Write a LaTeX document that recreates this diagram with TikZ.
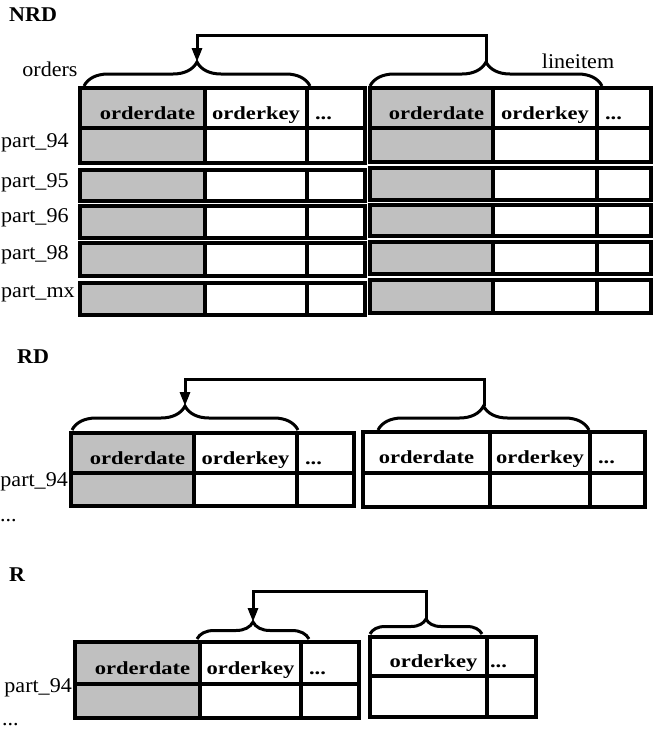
\documentclass[tikz,border=0pt]{standalone}
\usepackage{fontspec}
\setmainfont{Liberation Serif}[FakeStretch=1.05]
\newfontfamily\cellfont{Liberation Serif}[FakeStretch=1.22]
\usepackage{tikz}
\usetikzlibrary{positioning,arrows.meta,decorations.pathreplacing}
\definecolor{cellgray}{RGB}{192,192,192}
\tikzstyle{hcell} = [draw, line width=4pt, inner sep=0pt, outer sep=0pt, text height=22pt, text depth=0pt, text centered, font=\cellfont\fontsize{18.5}{22}\selectfont\bfseries]
\tikzstyle{gcell} = [hcell, fill=cellgray]
\tikzstyle{dcell} = [hcell, align=left, inner xsep=8pt]
\tikzstyle{rcell} = [draw, line width=4pt, inner sep=0pt, outer sep=0pt]
\tikzstyle{grcell} = [rcell, fill=cellgray]
\tikzstyle{textonly} = [draw=none, fill=none, inner sep=0pt, font=\fontsize{21}{24}\selectfont]
\tikzstyle{title} = [textonly, font=\fontsize{21}{24}\selectfont\bfseries]
\tikzstyle{brc} = [draw, line width=3pt, decorate, decoration={brace, amplitude=24pt}]
\tikzstyle{tedge} = [draw, line width=3pt, -{Triangle[length=14pt, width=10pt]}]

\begin{document}
\begin{tikzpicture}[x=1pt, y=-1pt]
\useasboundingbox (0,0) rectangle (654,732);

% NRD =============================
\node[title, anchor=west] (nrd) at (9,15) {NRD};
\node[textonly] (ordlab) at (50,69) {orders};
\node[textonly] (lilab) at (578,61) {lineitem};

% orders
\node[gcell, minimum width=125pt, minimum height=40pt, anchor=north west] (nrdOd) at (80,88) {\hspace*{10pt}orderdate};
\node[hcell, minimum width=102pt, minimum height=40pt, right=0pt of nrdOd] (nrdOk) {orderkey};
\node[dcell, text width=42pt, minimum height=40pt, right=0pt of nrdOk] (nrdOx) {...};
\node[grcell, minimum width=125pt, minimum height=35pt, below=0pt of nrdOd] (nrdO94d) {};
\node[rcell, minimum width=102pt, minimum height=35pt, below=0pt of nrdOk] (nrdO94k) {};
\node[rcell, minimum width=58pt, minimum height=35pt, below=0pt of nrdOx] (nrdO94x) {};

\node[grcell, minimum width=125pt, minimum height=31pt, anchor=north west] (nrdO95d) at (80,170) {};
\node[rcell, minimum width=102pt, minimum height=31pt, right=0pt of nrdO95d] (nrdO95k) {};
\node[rcell, minimum width=58pt, minimum height=31pt, right=0pt of nrdO95k] (nrdO95x) {};
\node[grcell, minimum width=125pt, minimum height=32pt, anchor=north west] (nrdO96d) at (80,206) {};
\node[rcell, minimum width=102pt, minimum height=32pt, right=0pt of nrdO96d] (nrdO96k) {};
\node[rcell, minimum width=58pt, minimum height=32pt, right=0pt of nrdO96k] (nrdO96x) {};
\node[grcell, minimum width=125pt, minimum height=33pt, anchor=north west] (nrdO98d) at (80,243) {};
\node[rcell, minimum width=102pt, minimum height=33pt, right=0pt of nrdO98d] (nrdO98k) {};
\node[rcell, minimum width=58pt, minimum height=33pt, right=0pt of nrdO98k] (nrdO98x) {};
\node[grcell, minimum width=125pt, minimum height=32pt, anchor=north west] (nrdOmxd) at (80,283) {};
\node[rcell, minimum width=102pt, minimum height=32pt, right=0pt of nrdOmxd] (nrdOmxk) {};
\node[rcell, minimum width=58pt, minimum height=32pt, right=0pt of nrdOmxk] (nrdOmxx) {};

% lineitem
\node[gcell, minimum width=123pt, minimum height=40pt, anchor=north west] (nrdLd) at (370,88) {\hspace*{10pt}orderdate};
\node[hcell, minimum width=104pt, minimum height=40pt, right=0pt of nrdLd] (nrdLk) {orderkey};
\node[dcell, text width=38pt, minimum height=40pt, right=0pt of nrdLk] (nrdLx) {...};
\node[grcell, minimum width=123pt, minimum height=34pt, below=0pt of nrdLd] (nrdL94d) {};
\node[rcell, minimum width=104pt, minimum height=34pt, below=0pt of nrdLk] (nrdL94k) {};
\node[rcell, minimum width=54pt, minimum height=34pt, below=0pt of nrdLx] (nrdL94x) {};

\node[grcell, minimum width=123pt, minimum height=32pt, anchor=north west] (nrdL95d) at (370,168) {};
\node[rcell, minimum width=104pt, minimum height=32pt, right=0pt of nrdL95d] (nrdL95k) {};
\node[rcell, minimum width=54pt, minimum height=32pt, right=0pt of nrdL95k] (nrdL95x) {};
\node[grcell, minimum width=123pt, minimum height=31pt, anchor=north west] (nrdL96d) at (370,205) {};
\node[rcell, minimum width=104pt, minimum height=31pt, right=0pt of nrdL96d] (nrdL96k) {};
\node[rcell, minimum width=54pt, minimum height=31pt, right=0pt of nrdL96k] (nrdL96x) {};
\node[grcell, minimum width=123pt, minimum height=32pt, anchor=north west] (nrdL98d) at (370,242) {};
\node[rcell, minimum width=104pt, minimum height=32pt, right=0pt of nrdL98d] (nrdL98k) {};
\node[rcell, minimum width=54pt, minimum height=32pt, right=0pt of nrdL98k] (nrdL98x) {};
\node[grcell, minimum width=123pt, minimum height=33pt, anchor=north west] (nrdLmxd) at (370,280) {};
\node[rcell, minimum width=104pt, minimum height=33pt, right=0pt of nrdLmxd] (nrdLmxk) {};
\node[rcell, minimum width=54pt, minimum height=33pt, right=0pt of nrdLmxk] (nrdLmxx) {};

% partitions
\node[textonly, anchor=west] (nrd94) at (1,143) {part\_94};
\node[textonly, anchor=west] (nrd95) at (1,183) {part\_95};
\node[textonly, anchor=west] (nrd96) at (1,218) {part\_96};
\node[textonly, anchor=west] (nrd98) at (1,255) {part\_98};
\node[textonly, anchor=west] (nrdmx) at (1,294) {part\_mx};

% braces and join
\coordinate (nrdOtip) at (197,62);
\coordinate (nrdLtip) at (486,62);
\coordinate (nrdTop) at (197,35);
\path[brc] (84,86) -- (310,86);
\path[brc] (370,86) -- (602,86);
\path[tedge] (nrdLtip) |- (nrdTop) -- (nrdOtip);

% RD =============================
\node[title, anchor=west] (rd) at (17,357) {RD};

\node[gcell, minimum width=123pt, minimum height=40pt, anchor=north west] (rdOd) at (71,433) {\hspace*{10pt}orderdate};
\node[hcell, minimum width=103pt, minimum height=40pt, right=0pt of rdOd] (rdOk) {orderkey};
\node[dcell, text width=41pt, minimum height=40pt, right=0pt of rdOk] (rdOx) {...};
\node[grcell, minimum width=123pt, minimum height=33pt, below=0pt of rdOd] (rdO94d) {};
\node[rcell, minimum width=103pt, minimum height=33pt, below=0pt of rdOk] (rdO94k) {};
\node[rcell, minimum width=57pt, minimum height=33pt, below=0pt of rdOx] (rdO94x) {};

\node[hcell, minimum width=127pt, minimum height=41pt, anchor=north west] (rdLd) at (363,432) {orderdate};
\node[hcell, minimum width=100pt, minimum height=41pt, right=0pt of rdLd] (rdLk) {orderkey};
\node[dcell, text width=39pt, minimum height=41pt, right=0pt of rdLk] (rdLx) {...};
\node[rcell, minimum width=127pt, minimum height=34pt, below=0pt of rdLd] (rdL94d) {};
\node[rcell, minimum width=100pt, minimum height=34pt, below=0pt of rdLk] (rdL94k) {};
\node[rcell, minimum width=55pt, minimum height=34pt, below=0pt of rdLx] (rdL94x) {};

\node[textonly, anchor=east] (rd94) at (68,482) {part\_94};
\node[textonly, anchor=west] (rddots) at (0,521) {...};

\coordinate (rdOtip) at (185,406);
\coordinate (rdLtip) at (484,406);
\coordinate (rdTop) at (185,379);
\path[brc] (72,430) -- (298,430);
\path[brc] (378,430) -- (589,430);
\path[tedge] (rdLtip) |- (rdTop) -- (rdOtip);

% R =============================
\node[title, anchor=west] (r) at (9,575) {R};

\node[gcell, minimum width=125pt, minimum height=42pt, anchor=north west] (rOd) at (75,642) {\hspace*{10pt}orderdate};
\node[hcell, minimum width=101pt, minimum height=42pt, right=0pt of rOd] (rOk) {orderkey};
\node[dcell, text width=42pt, minimum height=42pt, right=0pt of rOk] (rOx) {...};
\node[grcell, minimum width=125pt, minimum height=34pt, below=0pt of rOd] (rO94d) {};
\node[rcell, minimum width=101pt, minimum height=34pt, below=0pt of rOk] (rO94k) {};
\node[rcell, minimum width=58pt, minimum height=34pt, below=0pt of rOx] (rO94x) {};

\node[hcell, minimum width=117pt, minimum height=39pt, anchor=north west] (rLk) at (370,637) {\hspace*{10pt}orderkey};
\node[dcell, inner xsep=3pt, text width=43pt, minimum height=39pt, right=0pt of rLk] (rLx) {...};
\node[rcell, minimum width=117pt, minimum height=41pt, below=0pt of rLk] (rL94k) {};
\node[rcell, minimum width=49pt, minimum height=41pt, below=0pt of rLx] (rL94x) {};

\node[textonly, anchor=east] (r94) at (72,688) {part\_94};
\node[textonly, anchor=west] (rdots) at (2,725) {...};

\coordinate (rOtip) at (253,622);
\coordinate (rLtip) at (426,619);
\coordinate (rTop) at (253,591);
\path[brc, decoration={amplitude=17pt}] (197,639) -- (309,639);
\path[brc, decoration={amplitude=15pt}] (370,634) -- (482,634);
\path[tedge] (rLtip) |- (rTop) -- (rOtip);

\end{tikzpicture}
\end{document}
